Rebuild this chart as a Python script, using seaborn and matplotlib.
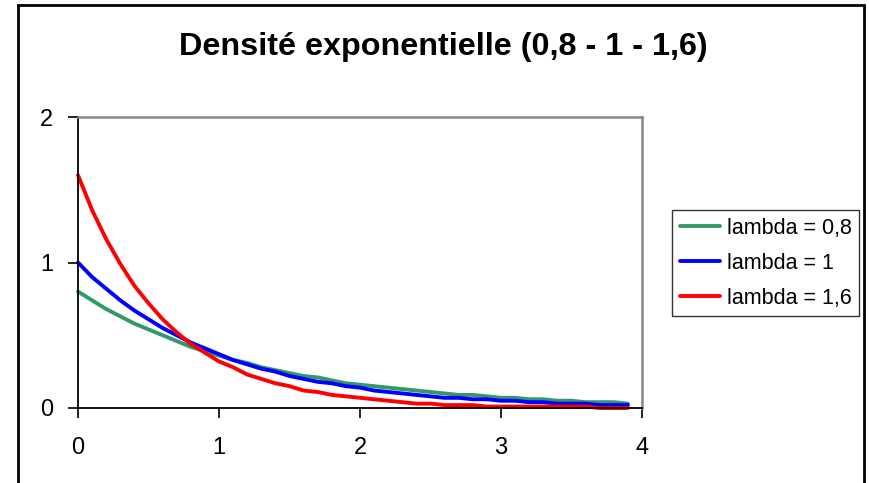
import numpy as np
import pandas as pd
import matplotlib
matplotlib.use("Agg")
import matplotlib.pyplot as plt
import seaborn as sns
from matplotlib.patches import Rectangle
from matplotlib.lines import Line2D

# x values (0 to 3.9 step 0.1)
x_vals = [0.0, 0.1, 0.2, 0.3, 0.4, 0.5, 0.6, 0.7, 0.8, 0.9,
          1.0, 1.1, 1.2, 1.3, 1.4, 1.5, 1.6, 1.7, 1.8, 1.9,
          2.0, 2.1, 2.2, 2.3, 2.4, 2.5, 2.6, 2.7, 2.8, 2.9,
          3.0, 3.1, 3.2, 3.3, 3.4, 3.5, 3.6, 3.7, 3.8, 3.9]
dens_08 = [0.80, 0.74, 0.68, 0.63, 0.58, 0.54, 0.50, 0.46, 0.42, 0.39,
           0.36, 0.33, 0.31, 0.28, 0.26, 0.24, 0.22, 0.21, 0.19, 0.17,
           0.16, 0.15, 0.14, 0.13, 0.12, 0.11, 0.10, 0.09, 0.09, 0.08,
           0.07, 0.07, 0.06, 0.06, 0.05, 0.05, 0.04, 0.04, 0.04, 0.03]
dens_1 = [1.00, 0.90, 0.82, 0.74, 0.67, 0.61, 0.55, 0.50, 0.45, 0.41,
          0.37, 0.33, 0.30, 0.27, 0.25, 0.22, 0.20, 0.18, 0.17, 0.15,
          0.14, 0.12, 0.11, 0.10, 0.09, 0.08, 0.07, 0.07, 0.06, 0.06,
          0.05, 0.05, 0.04, 0.04, 0.03, 0.03, 0.03, 0.02, 0.02, 0.02]
dens_16 = [1.60, 1.36, 1.16, 0.99, 0.84, 0.72, 0.61, 0.52, 0.44, 0.38,
           0.32, 0.28, 0.23, 0.20, 0.17, 0.15, 0.12, 0.11, 0.09, 0.08,
           0.07, 0.06, 0.05, 0.04, 0.03, 0.03, 0.02, 0.02, 0.02, 0.01,
           0.01, 0.01, 0.01, 0.01, 0.01, 0.01, 0.01, 0.00, 0.00, 0.00]
series_names = ["lambda = 0,8", "lambda = 1", "lambda = 1,6"]
series_colors = ["#339966", "#0000FF", "#FF0000"]
title = "Densité exponentielle (0,8 - 1 - 1,6)"
x_ticks = [0, 1, 2, 3, 4]
y_ticks = [0, 1, 2]

df = pd.concat([
    pd.DataFrame({"x": x_vals, "y": vals, "serie": name})
    for name, vals in zip(series_names, [dens_08, dens_1, dens_16])
], ignore_index=True)

sns.set_theme(style="white")
plt.rcParams["font.family"] = ["Liberation Sans", "DejaVu Sans"]
plt.rcParams["text.color"] = "black"

W, H = 870, 483
fig = plt.figure(figsize=(W / 100, H / 100), dpi=100)
ax = fig.add_axes([78 / W, 1 - 408 / H, (642 - 78) / W, (408 - 117) / H])

sns.lineplot(data=df, x="x", y="y", hue="serie", palette=series_colors,
             hue_order=series_names, linewidth=2.8, ax=ax, legend=False,
             clip_on=False)

ax.set_xlim(0, 4)
ax.set_ylim(0, 2)
ax.set_xticks(x_ticks)
ax.set_yticks(y_ticks)
ax.set_xticklabels([str(t) for t in x_ticks])
ax.set_yticklabels([str(t) for t in y_ticks])
ax.set_xlabel("")
ax.set_ylabel("")
ax.tick_params(axis="both", direction="out", length=7, width=1.2,
               color="black", labelsize=17, labelcolor="black")
ax.tick_params(axis="x", pad=14, bottom=True)
ax.tick_params(axis="y", pad=11, left=True)
for s in ["left", "bottom"]:
    ax.spines[s].set_color("black")
    ax.spines[s].set_linewidth(1.3)
for s in ["top", "right"]:
    ax.spines[s].set_color("#888888")
    ax.spines[s].set_linewidth(1.8)
ax.grid(False)
ax.set_facecolor("white")

# legend
handles = [Line2D([0], [0], color=c, lw=2.8) for c in series_colors]
leg = fig.legend(handles, series_names, loc="upper left",
                 bbox_to_anchor=(672 / W, 1 - 210 / H),
                 frameon=True, fancybox=False, fontsize=15.5,
                 handlelength=1.9, handletextpad=0.3, labelspacing=0.65,
                 borderpad=0.35, borderaxespad=0.0)
leg.get_frame().set_edgecolor("black")
leg.get_frame().set_linewidth(1.0)
for t in leg.get_texts():
    t.set_color("black")

fig.text(443 / W, 1 - 47 / H, title, ha="center", va="center",
         fontsize=23.3, fontweight="bold", color="black")

# outer chart frame
fig.patches.append(Rectangle((18 / W, -0.05), (864 - 18) / W, 1.05 - 5.5 / H,
                             transform=fig.transFigure, fill=False,
                             edgecolor="black", linewidth=2.0))

fig.savefig("out.png", dpi=100, facecolor="white")
